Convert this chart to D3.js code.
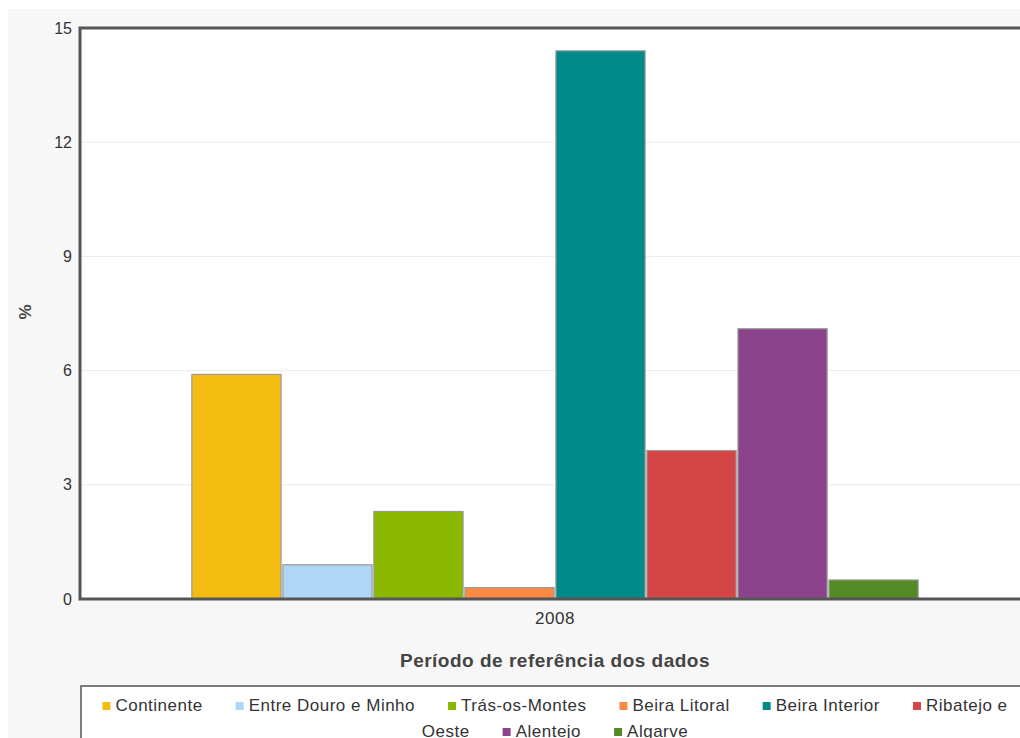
<!DOCTYPE html>
<html>
<head>
<meta charset="utf-8">
<script src="https://cdn.jsdelivr.net/npm/d3@7"></script>
<style>
  body { margin: 0; background: #fff; }
  svg { display: block; font-family: "Liberation Sans", Arial, sans-serif; }
</style>
</head>
<body>
<svg id="chart" width="1020" height="738"></svg>
<script>
var periods = ["2008"];
var regions = ["Continente", "Entre Douro e Minho", "Trás-os-Montes", "Beira Litoral",
               "Beira Interior", "Ribatejo e Oeste", "Alentejo", "Algarve"];
var values = [5.9, 0.9, 2.3, 0.3, 14.4, 3.9, 7.1, 0.5];
var colors = ["#f4bb10", "#aed6f5", "#8ab800", "#fb8a45", "#008a8a", "#d64545", "#8b448b", "#548a24"];
var yTicks = [0, 3, 6, 9, 12, 15];

var svg = d3.select("#chart");
var margin = {top: 28, left: 80};
var plotW = 950, plotH = 571;

// grey page panel
svg.append("rect").attr("x", 8).attr("y", 9).attr("width", 1012).attr("height", 729).attr("fill", "#f7f7f7");

var chart = svg.append("g").attr("transform", "translate(" + margin.left + "," + margin.top + ")");

chart.append("rect").attr("width", plotW).attr("height", plotH).attr("fill", "#fff");

var x = d3.scaleBand().domain(periods).range([0, plotW]).paddingInner(0).paddingOuter(0.154);
var xs = d3.scaleBand().domain(regions).range([0, x.bandwidth()]).paddingInner(0.02);
var y = d3.scaleLinear().domain([0, 15]).range([plotH, 0]);

// grid
chart.append("g").selectAll("line")
  .data(yTicks.filter(function(d) { return d > 0 && d < 15; }))
  .enter().append("line")
  .attr("x1", 0).attr("x2", plotW)
  .attr("y1", function(d) { return y(d); }).attr("y2", function(d) { return y(d); })
  .attr("stroke", "#ececec").attr("stroke-width", 1);

// bars
var rows = regions.map(function(r, i) { return {region: r, value: values[i], color: colors[i]}; });
chart.append("g").selectAll("rect")
  .data(rows)
  .enter().append("rect")
  .attr("x", function(d) { return x("2008") + xs(d.region); })
  .attr("y", function(d) { return y(d.value); })
  .attr("width", xs.bandwidth())
  .attr("height", function(d) { return plotH - y(d.value); })
  .attr("fill", function(d) { return d.color; })
  .attr("stroke", "#9a9a9a").attr("stroke-width", 1.2);

// frame
chart.append("path")
  .attr("d", "M" + (plotW + 10) + ",0H0V" + plotH + "H" + (plotW + 10))
  .attr("fill", "none").attr("stroke", "#555").attr("stroke-width", 3);

// y axis labels
var yAxis = d3.axisLeft(y).tickValues(yTicks).tickSize(0).tickPadding(8);
var gy = chart.append("g").call(yAxis);
gy.select(".domain").remove();
gy.selectAll("text").attr("font-size", 16).attr("fill", "#333").attr("font-family", "Liberation Sans, Arial, sans-serif");

// x axis labels
var xAxis = d3.axisBottom(x).tickSize(0).tickPadding(13);
var gx = chart.append("g").attr("transform", "translate(0," + plotH + ")").call(xAxis);
gx.select(".domain").remove();
gx.selectAll("text").attr("font-size", 17).attr("letter-spacing", 0.5).attr("fill", "#333")
  .attr("font-family", "Liberation Sans, Arial, sans-serif");

var cx = margin.left + x("2008") + x.bandwidth() / 2;
svg.append("text").attr("x", cx).attr("y", 667).attr("text-anchor", "middle")
  .attr("font-size", 19).attr("letter-spacing", 0.5).attr("font-weight", "bold").attr("fill", "#444")
  .text("Período de referência dos dados");

svg.append("text").attr("transform", "translate(31,312) rotate(-90)").attr("text-anchor", "middle")
  .attr("font-size", 17).attr("font-weight", "bold").attr("fill", "#444").text("%");

// legend box
svg.append("rect").attr("x", 81).attr("y", 686).attr("width", 960).attr("height", 70)
  .attr("fill", "#fff").attr("stroke", "#555").attr("stroke-width", 1.5);

// legend flow layout with word wrapping, each row centred
var leg = svg.append("g").attr("font-size", 17).attr("letter-spacing", 0.5).attr("fill", "#333");
var maxW = 910, gap = 33, sq = 8, sqGap = 5;
function tw(s) {
  var t = leg.append("text").text(s);
  var w = t.node().getComputedTextLength();
  t.remove();
  return w;
}

var lines = [[]], cur = 0;
rows.forEach(function(d) {
  var words = d.region.split(" ");
  var first = true;
  var start = cur === 0 ? 0 : gap;
  var piece = [];
  words.forEach(function(w) {
    var txt = piece.concat([w]).join(" ");
    var need = start + (first ? sq + sqGap : 0) + tw(txt);
    if (cur + need > maxW && piece.length) {
      lines[lines.length - 1].push({d: d, text: piece.join(" "), square: first});
      lines.push([]); cur = 0; start = 0; first = false; piece = [w];
    } else {
      piece.push(w);
    }
  });
  var t = piece.join(" ");
  var w2 = start + (first ? sq + sqGap : 0) + tw(t);
  if (cur + w2 > maxW) { lines.push([]); cur = 0; start = 0; w2 = (first ? sq + sqGap : 0) + tw(t); }
  lines[lines.length - 1].push({d: d, text: t, square: first});
  cur += w2;
});

lines.forEach(function(line, li) {
  var items = line.map(function(it, k) {
    return {it: it, g: k === 0 ? 0 : gap, w: (it.square ? sq + sqGap : 0) + tw(it.text)};
  });
  var total = d3.sum(items, function(o) { return o.g + o.w; });
  var px = cx - total / 2;
  var py = 711 + li * 26;
  items.forEach(function(o) {
    px += o.g;
    if (o.it.square) {
      leg.append("rect").attr("x", px).attr("y", py - 9).attr("width", sq).attr("height", sq).attr("fill", o.it.d.color);
      px += sq + sqGap;
    }
    leg.append("text").attr("x", px).attr("y", py).text(o.it.text);
    px += o.w - (o.it.square ? sq + sqGap : 0);
  });
});
</script>
</body>
</html>
